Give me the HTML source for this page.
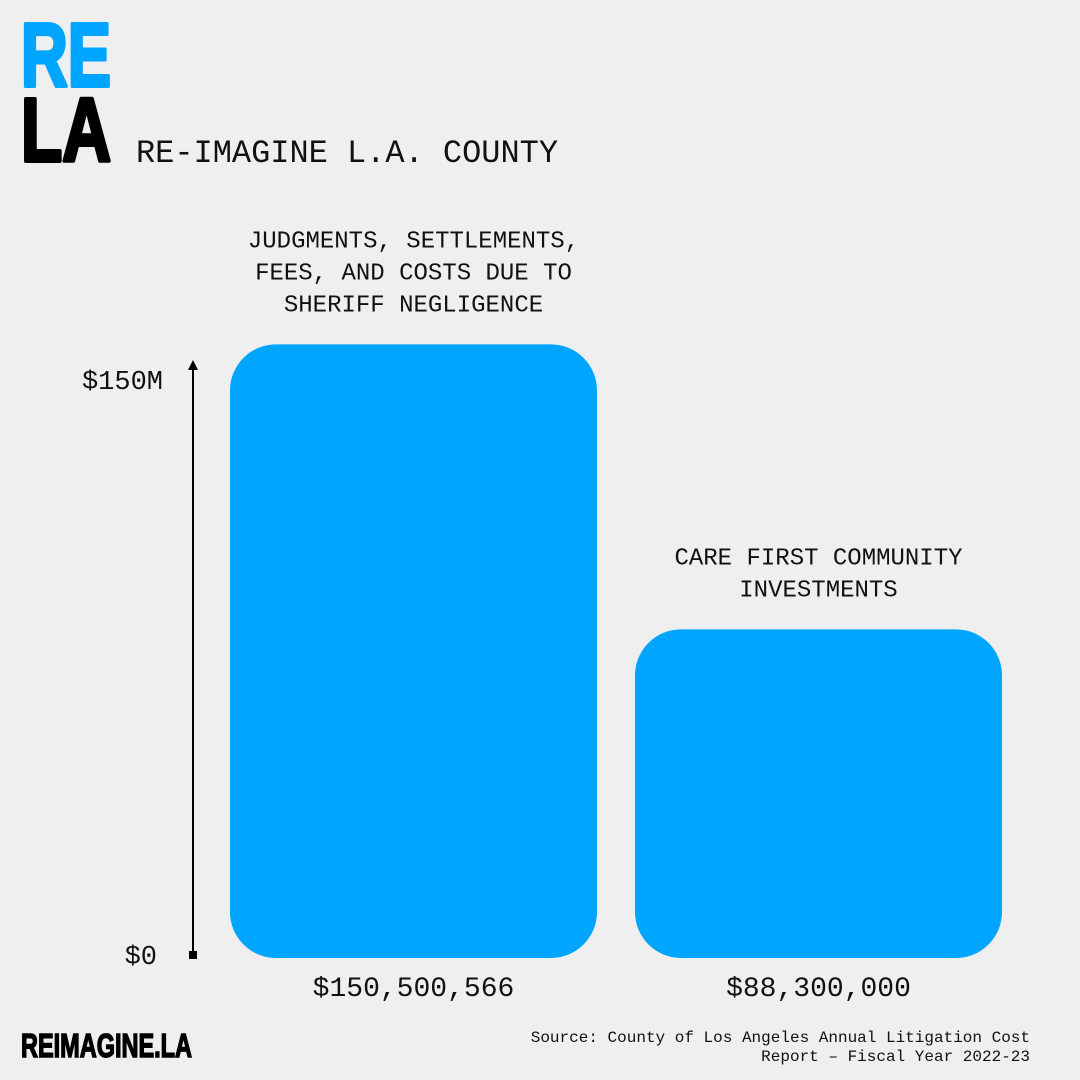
<!DOCTYPE html>
<html><head><meta charset="utf-8"><style>
html,body{margin:0;padding:0;background:#efefef;}
svg{display:block;}
.m{font-family:"Liberation Mono",monospace;fill:#111;}
.b{font-family:"Liberation Sans Narrow","Liberation Sans",sans-serif;font-weight:bold;}
</style></head><body>
<svg id="chart" width="1080" height="1080" viewBox="0 0 1080 1080" xmlns="http://www.w3.org/2000/svg">
<rect width="1080" height="1080" fill="#efefef"/>
<text class="b" x="21" y="86" font-size="90" fill="#00a5ff" stroke="#00a5ff" stroke-width="4" stroke-linejoin="round" textLength="90" lengthAdjust="spacingAndGlyphs">RE</text>
<text class="b" x="21" y="161" font-size="90" fill="#000" stroke="#000" stroke-width="4" stroke-linejoin="round" textLength="90" lengthAdjust="spacingAndGlyphs">LA</text>
<text class="m" x="136" y="162" font-size="32" textLength="422" lengthAdjust="spacingAndGlyphs">RE-IMAGINE L.A. COUNTY</text>
<g id="axis">
<line x1="193" y1="368" x2="193" y2="955" stroke="#000" stroke-width="2"/>
<path d="M188,370 L193,360 L198,370 Z" fill="#000"/>
<rect x="189" y="951" width="8" height="8" fill="#000"/>
<text class="m" x="163" y="389" font-size="27" text-anchor="end">$150M</text>
<text class="m" x="157" y="964" font-size="27" text-anchor="end">$0</text>
</g>
<g id="bars"></g>
<text class="b" x="21" y="1057" font-size="33" fill="#000" stroke="#000" stroke-width="1.5" textLength="171" lengthAdjust="spacingAndGlyphs">REIMAGINE.LA</text>
<text class="m" x="1030" y="1042" font-size="16" text-anchor="end">Source: County of Los Angeles Annual Litigation Cost</text>
<text class="m" x="1030" y="1061" font-size="16" text-anchor="end">Report – Fiscal Year 2022-23</text>
</svg>
<script>
const categories = [["JUDGMENTS, SETTLEMENTS,","FEES, AND COSTS DUE TO","SHERIFF NEGLIGENCE"],["CARE FIRST COMMUNITY","INVESTMENTS"]];
const values = [150500566, 88300000];
const valueLabels = ["$150,500,566", "$88,300,000"];
const NS = "http://www.w3.org/2000/svg";
const baseY = 958;
function y(v){ return 1034 - v/1e6*4.582; }
function xLeft(i){ return 230 + i*405; }
const barW = 367, r = 46;
const g = document.getElementById('bars');
values.forEach((v,i)=>{
  const x0 = xLeft(i), top = y(v), h = baseY - top;
  const rect = document.createElementNS(NS,'rect');
  rect.setAttribute('x',x0); rect.setAttribute('y',top);
  rect.setAttribute('width',barW); rect.setAttribute('height',h);
  rect.setAttribute('rx',r); rect.setAttribute('fill','#00a5ff');
  
  
  g.appendChild(rect);
  const cx = x0 + barW/2;
  const lines = categories[i];
  lines.forEach((ln,j)=>{
    const t = document.createElementNS(NS,'text');
    t.setAttribute('class','m'); t.setAttribute('font-size','24');
    t.setAttribute('x',cx); t.setAttribute('text-anchor','middle');
    t.setAttribute('y', top - 33 - (lines.length-1-j)*32);
    t.textContent = ln;
    
    
    g.appendChild(t);
  });
  const vt = document.createElementNS(NS,'text');
  vt.setAttribute('class','m'); vt.setAttribute('font-size','28');
  vt.setAttribute('x',cx); vt.setAttribute('text-anchor','middle');
  vt.setAttribute('y', baseY + 38);
  vt.textContent = valueLabels[i];
  
  
  g.appendChild(vt);
});
</script>
</body></html>
